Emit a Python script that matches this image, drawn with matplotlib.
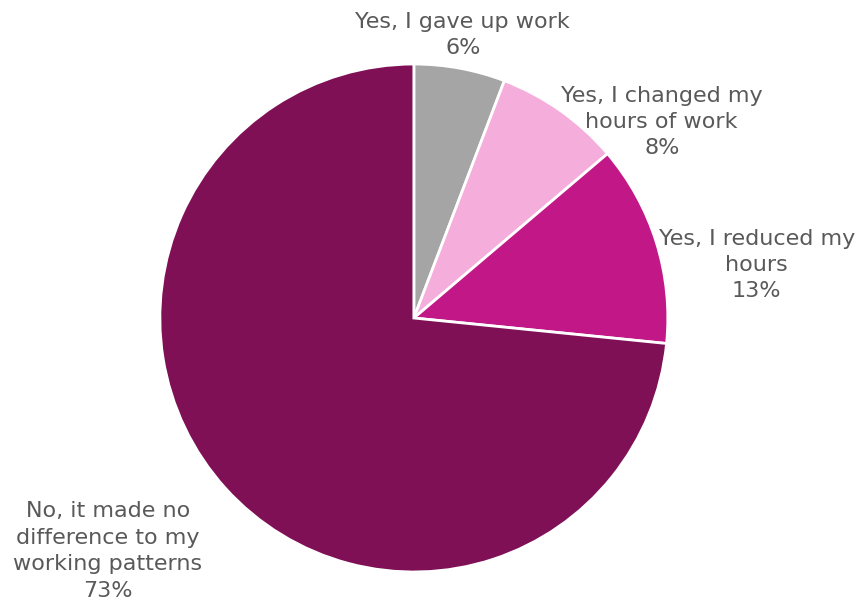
import matplotlib.pyplot as plt

categories = ["Yes, I gave up work", "Yes, I changed my\nhours of work",
              "Yes, I reduced my\nhours", "No, it made no\ndifference to my\nworking patterns"]
values = [5.8, 8.0, 12.8, 73.4]
colors = ["#A5A5A5", "#F5AEDB", "#C21887", "#7F1056"]

# label centres in data units (pie radius = 1)
label_pos = [(0.193, 1.114), (0.976, 0.772), (1.35, 0.209), (-1.205, -0.917)]

fig = plt.figure(figsize=(8.64, 6.04), dpi=100)
ax = fig.add_axes([0.185, 0.053, 0.588, 0.841])

ax.pie(values, colors=colors, startangle=90, counterclock=False, radius=1,
       wedgeprops=dict(edgecolor="white", linewidth=2))
ax.set_xlim(-1, 1)
ax.set_ylim(-1, 1)
ax.set_aspect("equal")
ax.axis("off")

for cat, val, (x, y) in zip(categories, values, label_pos):
    ax.text(x, y, f"{cat}\n{round(val)}%", ha="center", va="center", fontsize=16,
            color="#595959", linespacing=1.4, clip_on=False)

fig.savefig("out.png", dpi=100)
